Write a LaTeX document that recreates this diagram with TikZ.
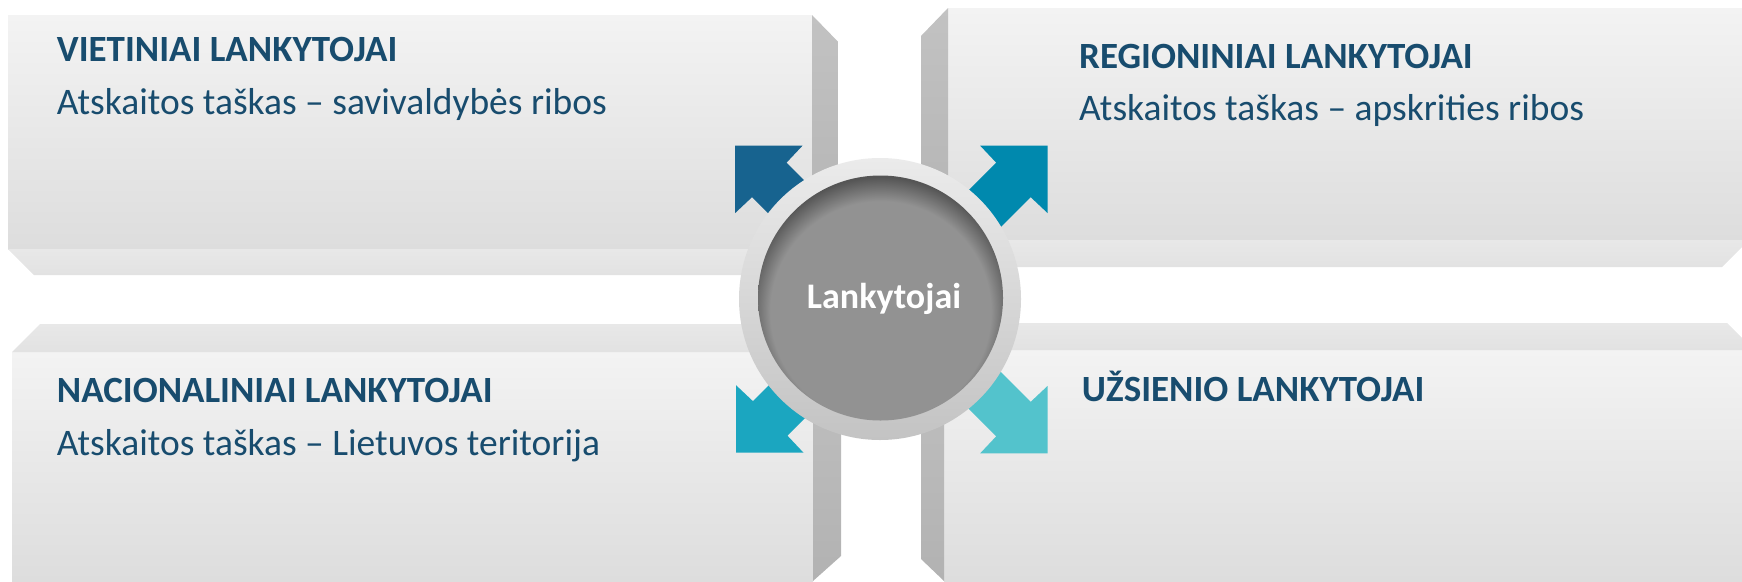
\documentclass[tikz,border=0pt]{standalone}
\usepackage{fontspec}
\setmainfont{Carlito}
\definecolor{fpTop}{HTML}{F3F3F3}
\definecolor{fpBot}{HTML}{DDDDDD}
\definecolor{stTop}{HTML}{E8E8E8}
\definecolor{stBot}{HTML}{E2E2E2}
\definecolor{sdTop}{HTML}{C2C2C2}
\definecolor{sdBot}{HTML}{B2B2B2}
\definecolor{txt}{HTML}{184C6E}
\definecolor{arTL}{HTML}{17638F}
\definecolor{arTR}{HTML}{0089AE}
\definecolor{arBL}{HTML}{1BA6C0}
\definecolor{arBR}{HTML}{53C3CC}
\definecolor{rgTop}{HTML}{EBEBEB}
\definecolor{rgBot}{HTML}{C3C3C3}
\definecolor{cIn}{HTML}{929292}
\definecolor{cSh}{HTML}{555555}
\pgfdeclareradialshading{innershadow}{\pgfpoint{0bp}{-5bp}}{color(0bp)=(cIn); color(22.5bp)=(cIn); color(27bp)=(cSh); color(50bp)=(cSh)}
\tikzset{
  front/.style={top color=fpTop, bottom color=fpBot},
  strip/.style={top color=stTop, bottom color=stBot},
  side/.style={top color=sdTop, bottom color=sdBot},
  titletext/.style={inner sep=0pt, anchor=base west, text=txt, font=\bfseries\fontsize{37}{40}\selectfont},
  subtext/.style={inner sep=0pt, anchor=base west, text=txt, font=\fontsize{37.5}{40}\selectfont},
  cornerarrow/.pic={\fill[pic actions] (0,0) -- (67.5,0) -- (51.5,17) -- (151,116.5) -- (116.5,151) -- (17,51.5) -- (0,67.5) -- cycle;}
}
\begin{document}
\begin{tikzpicture}[x=1pt,y=-1pt]
\useasboundingbox (0,0) rectangle (1742,581);
\clip (0,0) rectangle (1742,581);
% top-left box
\shade[front] (8,15) rectangle (812,249);
\shade[side] (812,15) -- (838,41.7) -- (838,275) -- (812,249) -- cycle;
\shade[strip] (8,249) -- (812,249) -- (838,275) -- (34,275) -- cycle;
% top-right box
\shade[front] (948,8) rectangle (1760,240);
\shade[side] (948,8) -- (921,36) -- (921,267) -- (948,240) -- cycle;
\shade[strip] (948,240) -- (1749,240) -- (1722,267) -- (921,267) -- cycle;
% bottom-left box
\shade[front] (12,352) rectangle (813,581);
\shade[strip] (12,352) -- (40,324) -- (841,324) -- (813,352) -- cycle;
\shade[side] (813,352) -- (841,324) -- (841,556) -- (813,581) -- cycle;
% bottom-right box
\shade[front] (944,350) rectangle (1760,581);
\shade[strip] (921,323) -- (1727,323) -- (1754,350) -- (944,350) -- cycle;
\shade[side] (921,323) -- (944,350) -- (944,581) -- (921,559) -- cycle;
% arrows
\pic[fill=arTL] at (735,145.7) {cornerarrow};
\pic[fill=arTR, xscale=-1] at (1047.7,145.7) {cornerarrow};
\pic[fill=arBL, yscale=-1] at (736,452.7) {cornerarrow};
\pic[fill=arBR, xscale=-1, yscale=-1] at (1047.7,453.3) {cornerarrow};
% centre
\shade[top color=rgTop, bottom color=rgBot] (880,299) circle[radius=141];
\shade[shading=innershadow] (880.5,298) circle[radius=122.5];
\node[inner sep=0pt, anchor=base, text=white, font=\bfseries\fontsize{36}{40}\selectfont] (centre) at (884,308) {Lankytojai};
% texts
\node[titletext] (t1) at (56.7,61) {VIETINIAI LANKYTOJAI};
\node[subtext] (s1) at (56.7,114) {Atskaitos taškas – savivaldybės ribos};
\node[titletext] (t2) at (1079,68) {REGIONINIAI LANKYTOJAI};
\node[subtext] (s2) at (1079,120) {Atskaitos taškas – apskrities ribos};
\node[titletext] (t3) at (56.7,402.7) {NACIONALINIAI LANKYTOJAI};
\node[subtext] (s3) at (56.7,455) {Atskaitos taškas – Lietuvos teritorija};
\node[titletext] (t4) at (1081.7,401.7) {UŽSIENIO LANKYTOJAI};
\end{tikzpicture}
\end{document}
